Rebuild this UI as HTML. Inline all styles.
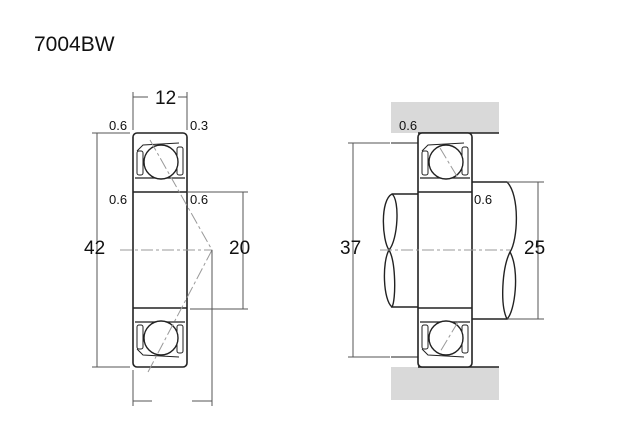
<!DOCTYPE html>
<html><head><style>body{margin:0;background:#fff}svg{display:block}text{font-family:"Liberation Sans",sans-serif;fill:#111}</style></head><body>
<svg width="640" height="440" viewBox="0 0 640 440">
<text x="34" y="51" font-size="21">7004BW</text>
<defs>
<g id="brg">
<rect x="0" y="0" width="54" height="234" rx="4" fill="#fff" stroke="#222" stroke-width="1.6"/>
<line x1="0" y1="59" x2="54" y2="59" stroke="#222" stroke-width="1.4"/>
<line x1="0" y1="175" x2="54" y2="175" stroke="#222" stroke-width="1.4"/>
<path d="M2,45 L52,45 M2,189 L52,189" stroke="#222" stroke-width="1.2"/>
<path d="M4,18 L10,12 L46,10 M4,216 L10,222 L46,224" stroke="#222" stroke-width="1" fill="none"/>
<rect x="4" y="18" width="6" height="24" rx="2" fill="none" stroke="#222"/>
<rect x="44" y="14" width="6" height="28" rx="2" fill="none" stroke="#222"/>
<rect x="4" y="192" width="6" height="24" rx="2" fill="none" stroke="#222"/>
<rect x="44" y="192" width="6" height="28" rx="2" fill="none" stroke="#222"/>
<circle cx="28" cy="29" r="17" fill="#fff" stroke="#222" stroke-width="1.4"/>
<circle cx="28" cy="205" r="17" fill="#fff" stroke="#222" stroke-width="1.4"/>
</g>
</defs>
<use href="#brg" x="133" y="133"/>
<g stroke="#999" stroke-width="1" fill="none" stroke-dasharray="12,3,3,3">
<path d="M150,140 L212,250 L148,372"/>
<line x1="120" y1="250" x2="212" y2="250"/>
</g>
<g stroke="#555" stroke-width="1" fill="none">
<line x1="133" y1="92" x2="133" y2="130"/><line x1="187" y1="92" x2="187" y2="130"/>
<line x1="133" y1="97" x2="148" y2="97"/><line x1="178" y1="97" x2="187" y2="97"/>
<line x1="97" y1="133" x2="97" y2="367"/>
<line x1="92" y1="133" x2="130" y2="133"/><line x1="92" y1="367" x2="130" y2="367"/>
<line x1="187" y1="192" x2="248" y2="192"/><line x1="190" y1="309" x2="248" y2="309"/>
<line x1="243" y1="192" x2="243" y2="309"/>
<line x1="133" y1="370" x2="133" y2="406"/><line x1="212" y1="250" x2="212" y2="406"/>
<line x1="133" y1="401" x2="152" y2="401"/><line x1="192" y1="401" x2="212" y2="401"/>
</g>
<text x="155" y="104" font-size="19">12</text>
<text x="109" y="130" font-size="13">0.6</text>
<text x="190" y="130" font-size="13">0.3</text>
<text x="109" y="204" font-size="13">0.6</text>
<text x="190" y="204" font-size="13">0.6</text>
<text x="84" y="254" font-size="19">42</text>
<text x="229" y="254" font-size="19">20</text>
<rect x="391" y="102" width="108" height="31" fill="#d9d9d9"/>
<rect x="391" y="367" width="108" height="33" fill="#d9d9d9"/>
<rect x="391" y="133" width="27" height="10" fill="#fff"/>
<rect x="391" y="357" width="27" height="10" fill="#fff"/>
<line x1="391" y1="143" x2="418" y2="143" stroke="#222"/>
<line x1="391" y1="357" x2="418" y2="357" stroke="#222"/>
<line x1="418" y1="133" x2="499" y2="133" stroke="#222" stroke-width="1.4"/>
<line x1="418" y1="367" x2="499" y2="367" stroke="#222" stroke-width="1.4"/>
<path d="M420,194 L392,194 C380,200 382,240 389,250 C396,262 396,300 392,307 L420,307 Z" fill="#fff" stroke="#222" stroke-width="1.4"/>
<path d="M392,194 C400,200 398,240 389,250 C382,262 383,300 392,307" fill="none" stroke="#222" stroke-width="1.4"/>
<path d="M470,182 L507,182 C520,195 518,240 510,252 C502,268 500,305 507,319 L470,319 Z" fill="#fff" stroke="#222" stroke-width="1.4"/>
<path d="M507,319 C515,312 520,270 510,252" fill="none" stroke="#222" stroke-width="1.4"/>
<use href="#brg" x="418" y="133"/>
<g stroke="#999" stroke-dasharray="12,3,3,3" fill="none">
<line x1="440" y1="148" x2="458" y2="178"/><line x1="458" y1="322" x2="440" y2="352"/>
<line x1="380" y1="250" x2="510" y2="250"/>
</g>
<g stroke="#555" fill="none">
<line x1="348" y1="143" x2="390" y2="143"/><line x1="348" y1="357" x2="390" y2="357"/>
<line x1="353" y1="143" x2="353" y2="357"/>
<line x1="507" y1="182" x2="544" y2="182"/><line x1="507" y1="319" x2="544" y2="319"/>
<line x1="538" y1="182" x2="538" y2="319"/>
</g>
<text x="399" y="130" font-size="13">0.6</text>
<text x="474" y="204" font-size="13">0.6</text>
<text x="340" y="254" font-size="19">37</text>
<text x="524" y="254" font-size="19">25</text>
</svg>
</body></html>
